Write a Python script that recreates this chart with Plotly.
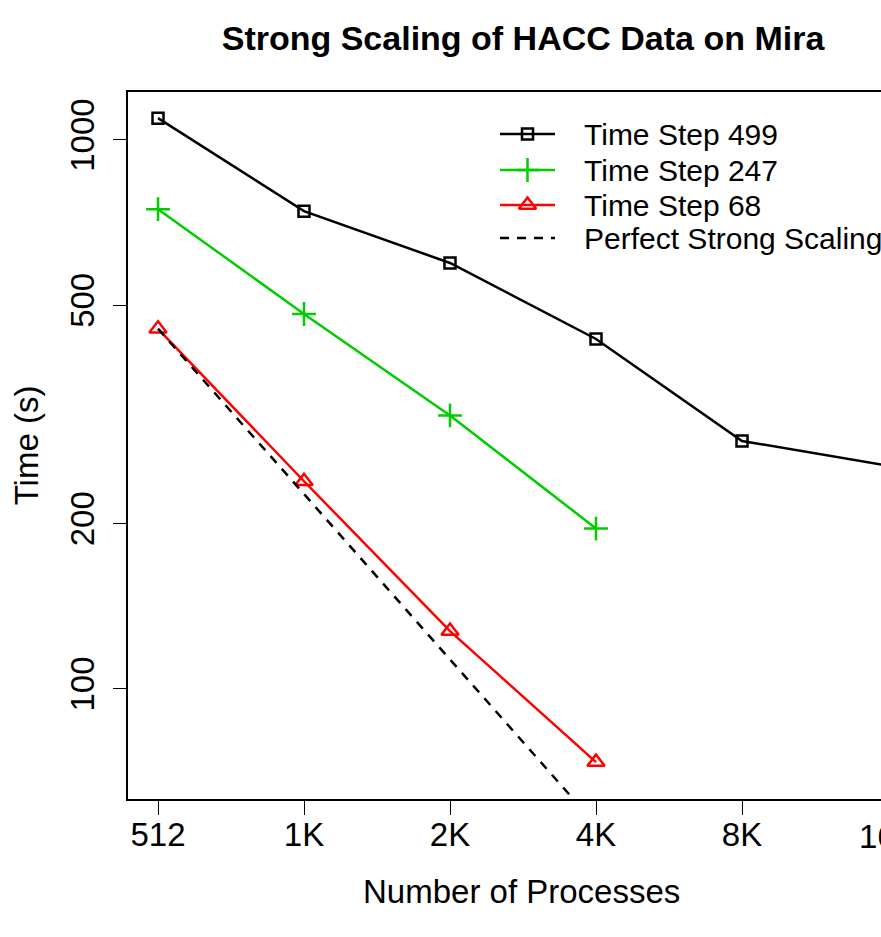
import plotly.graph_objects as go

processes = [512, 1024, 2048, 4096, 8192, 16384]
tick_labels = ["512", "1K", "2K", "4K", "8K", "16K"]

ts499 = [1096, 742, 597, 434, 283, 255]
ts247 = [748, 482, 315, 196]
ts68 = [453, 239, 127.5, 73.6]
perfect = [453, 226.5, 113.25, 56.6]

y_ticks = [100, 200, 500, 1000]

series_names = ["Time Step 499", "Time Step 247", "Time Step 68", "Perfect Strong Scaling"]

FONT = "Liberation Sans, Arial, Helvetica, sans-serif"
GREEN = "#00cd00"
RED = "#ff0000"

styles = [
    dict(line=dict(color="black", width=2.5),
         marker=dict(symbol="square-open", size=11, color="black", line=dict(width=2.5, color="black")),
         mode="lines+markers"),
    dict(line=dict(color=GREEN, width=2.5),
         marker=dict(symbol="cross-thin-open", size=17, color=GREEN, line=dict(width=2.5, color=GREEN)),
         mode="lines+markers"),
    dict(line=dict(color=RED, width=2.5),
         marker=dict(symbol="triangle-up-open", size=15, color=RED, line=dict(width=2.5, color=RED)),
         mode="lines+markers"),
    dict(line=dict(color="black", width=2.5, dash="9px,8px"), mode="lines"),
]

data = [
    (processes, ts499),
    (processes[:4], ts247),
    (processes[:4], ts68),
    (processes[:4], perfect),
]

fig = go.Figure()
for name, (xs, ys), st in zip(series_names, data, styles):
    fig.add_trace(go.Scatter(x=xs, y=ys, name=name, showlegend=False, **st))

# Custom legend (R-style, no box) drawn on an overlay axis in plot-fraction coordinates
W, H = 881, 937
L, T, B = 128, 92, 799
PW, PH = W - L, B - T
def px(x):
    return (x - L) / PW
def py(y):
    return (B - y) / PH

row_y = [134, 170, 205, 238]
for name, st, ry in zip(series_names, styles, row_y):
    yy = py(ry)
    fig.add_trace(go.Scatter(x=[px(500), px(555)], y=[yy, yy], mode="lines",
                             line=st["line"], xaxis="x2", yaxis="y2",
                             showlegend=False, hoverinfo="skip"))
    if "marker" in st:
        fig.add_trace(go.Scatter(x=[px(527.5)], y=[yy], mode="markers",
                                 marker=st["marker"], xaxis="x2", yaxis="y2",
                                 showlegend=False, hoverinfo="skip"))
    fig.add_annotation(text=name, x=px(582), y=yy, xref="x2", yref="y2",
                       xanchor="left", yanchor="middle", showarrow=False,
                       font=dict(size=30, family=FONT, color="black"))

fig.add_annotation(text="Number of Processes", x=px(521), y=py(891), xref="paper", yref="paper",
                   xanchor="center", yanchor="middle", showarrow=False,
                   font=dict(size=33, family=FONT, color="black"))

# last tick label (16K) sits just past the cropped right edge
fig.add_annotation(text=tick_labels[-1], x=px(888), y=py(836), xref="paper", yref="paper",
                   xanchor="center", yanchor="middle", showarrow=False,
                   font=dict(size=33, family=FONT, color="black"))

fig.update_layout(
    width=W, height=H,
    margin=dict(l=L, r=0, t=T, b=H - B),
    paper_bgcolor="white", plot_bgcolor="white",
    font=dict(family=FONT, color="black", size=33),
    title=dict(text="<b>Strong Scaling of HACC Data on Mira</b>",
               font=dict(size=34, family=FONT, color="black"),
               x=523 / W, xanchor="center", xref="container",
               y=1 - 38 / H, yanchor="middle", yref="container"),
    showlegend=False,
    xaxis2=dict(overlaying="x", range=[0, 1], visible=False, fixedrange=True),
    yaxis2=dict(overlaying="y", range=[0, 1], visible=False, fixedrange=True),
)

fig.update_layout(xaxis=dict(
    type="log", range=[2.6474, 4.2000],
    tickvals=processes, ticktext=tick_labels,
    ticks="outside", ticklen=14, tickwidth=1.2, tickcolor="black",
    showline=True, linecolor="black", linewidth=1.5, mirror=True,
    showgrid=False, zeroline=False,
    tickfont=dict(size=33, family=FONT, color="black"),
    ticklabelstandoff=-8,
))
fig.update_layout(yaxis=dict(
    type="log", range=[1.7996, 3.0874],
    tickvals=y_ticks, ticktext=[str(v) for v in y_ticks],
    tickangle=-90,
    ticks="outside", ticklen=13, tickwidth=1.2, tickcolor="black",
    showline=True, linecolor="black", linewidth=1.5, mirror=False,
    showgrid=False, zeroline=False,
    tickfont=dict(size=33, family=FONT, color="black"),
    ticklabelstandoff=6,
    title=dict(text="Time (s)", font=dict(size=33, family=FONT, color="black"), standoff=15),
))

fig.write_html("out.html")
